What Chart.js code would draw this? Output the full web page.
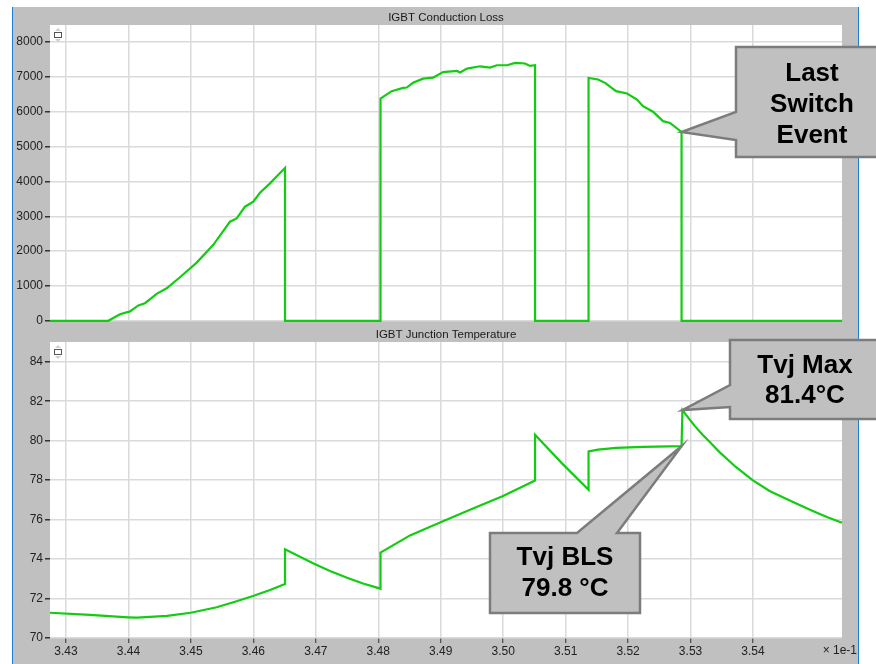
<!DOCTYPE html>
<html>
<head>
<meta charset="utf-8">
<script src="https://cdn.jsdelivr.net/npm/chart.js@4/dist/chart.umd.min.js"></script>
<style>
html,body{margin:0;padding:0;background:#fff;}
body{width:876px;height:664px;position:relative;overflow:hidden;}
#frame{position:absolute;left:12px;top:7px;width:847px;height:657px;box-sizing:border-box;background:#c0c0c0;border-left:1px solid #1a7fd4;border-right:1px solid #1a7fd4;}
canvas{position:absolute;left:0;}
#c1{top:0;}
#c2{top:326px;}
</style>
</head>
<body>
<div id="frame"></div>
<canvas id="c1" width="876" height="330"></canvas>
<canvas id="c2" width="876" height="338"></canvas>
<script>
// ---- data (time axis in units of 1e-1 s) ----
const xTicks = [3.43,3.44,3.45,3.46,3.47,3.48,3.49,3.50,3.51,3.52,3.53,3.54];
const lossTicks = [0,1000,2000,3000,4000,5000,6000,7000,8000];
const tempTicks = [70,72,74,76,78,80,82,84];

const lossX = [3.42744,3.43677,3.43865,3.44025,3.44158,3.44265,3.44452,3.44612,3.44825,3.45093,3.45359,3.45626,3.45733,3.45866,3.45999,3.46106,3.46267,3.46507,3.46507,
  3.48036,3.48036,3.48215,3.48396,3.48456,3.48556,3.48717,3.48877,3.49037,3.49261,3.49309,3.49421,3.49629,3.49789,3.49901,3.50062,3.50190,3.50350,3.50430,3.50510,3.50510,
  3.51367,3.51367,3.51519,3.51631,3.51807,3.51983,3.52143,3.52239,3.52399,3.52559,3.52671,3.52856,3.52856,3.55426];
const lossY = [0,0,190,270,440,505,775,935,1250,1670,2180,2845,2940,3275,3420,3675,3945,4390,0,
  0,6380,6590,6685,6695,6830,6950,6980,7140,7170,7125,7240,7305,7270,7335,7335,7400,7385,7315,7335,0,
  0,6970,6925,6830,6590,6525,6350,6160,6000,5730,5680,5420,0,0];

const tempX = [3.42744,3.43384,3.43993,3.44137,3.44617,3.44997,3.45413,3.45706,3.45994,3.46267,3.46507,3.46507,
  3.46955,3.47227,3.47500,3.47756,3.48036,3.48036,
  3.48508,3.48989,3.49469,3.49998,3.50510,3.50510,3.50942,3.51367,3.51367,3.51519,3.51807,3.52239,3.52856,3.52870,
  3.52984,3.53064,3.53192,3.53304,3.53464,3.53720,3.53993,3.54265,3.54537,3.54745,3.54985,3.55193,3.55426];
const tempY = [71.28,71.17,71.05,71.03,71.12,71.28,71.56,71.84,72.13,72.43,72.74,74.50,
  73.79,73.40,73.05,72.76,72.50,74.33,
  75.20,75.85,76.50,77.20,77.98,80.30,78.85,77.51,79.46,79.55,79.63,79.69,79.72,81.55,
  81.08,80.76,80.30,79.94,79.42,78.68,78.00,77.45,77.05,76.74,76.40,76.12,75.84];

const X_MIN = 3.42744, X_MAX = 3.55425;
const LOSS_MIN = 0, LOSS_MAX = 8490;
const TEMP_MIN = 70, TEMP_MAX = 85.0;

const GREEN = '#12cc12';
const FONT = 'Liberation Sans';

function xy(xs, ys){ return xs.map((x,i)=>({x:x,y:ys[i]})); }

function options(yMin, yMax, yTicks, bottom){
  return {
    responsive:false, animation:false, events:[],
    layout:{padding: bottom ? {left:12,right:34,top:16,bottom:0} : {left:12,right:34,top:25,bottom:9}},
    plugins:{legend:{display:false},tooltip:{enabled:false},title:{display:false}},
    scales:{
      x:{type:'linear',min:X_MIN,max:X_MAX,
        afterBuildTicks:s=>{s.ticks = xTicks.map(v=>({value:v}));},
        afterFit:s=>{s.height = bottom ? 26 : 0;},
        border:{display:false},
        grid:{color:'#dadada',lineWidth:1.5,drawTicks:bottom,tickLength:5,tickColor:'#333',tickWidth:1},
        ticks:{display:bottom,autoSkip:false,maxRotation:0,padding:1,color:'#222',
               font:{family:FONT,size:12},callback:v=>Number(v).toFixed(2)}},
      y:{type:'linear',min:yMin,max:yMax,
        afterBuildTicks:s=>{s.ticks = yTicks.map(v=>({value:v}));},
        afterFit:s=>{s.width = 38;},
        border:{display:false},
        grid:{color:'#dadada',lineWidth:1.5,drawTicks:true,tickLength:5,tickColor:'#333',tickWidth:1.5},
        ticks:{autoSkip:false,padding:2,color:'#222',font:{family:FONT,size:12},callback:v=>String(v)}}
    }
  };
}

function drawCallout(ctx, c, tip){
  ctx.save();
  ctx.beginPath();
  if (c.edge === 'left'){
    ctx.moveTo(c.L,c.T); ctx.lineTo(c.R,c.T); ctx.lineTo(c.R,c.B); ctx.lineTo(c.L,c.B);
    ctx.lineTo(c.L,c.b2); ctx.lineTo(tip.x,tip.y); ctx.lineTo(c.L,c.b1); ctx.closePath();
  } else {
    ctx.moveTo(c.L,c.T); ctx.lineTo(c.b1,c.T); ctx.lineTo(tip.x,tip.y); ctx.lineTo(c.b2,c.T);
    ctx.lineTo(c.R,c.T); ctx.lineTo(c.R,c.B); ctx.lineTo(c.L,c.B); ctx.closePath();
  }
  ctx.fillStyle = '#c0c0c0'; ctx.fill();
  ctx.lineWidth = 2.5; ctx.strokeStyle = '#7c7c7c'; ctx.lineJoin = 'miter'; ctx.stroke();
  ctx.fillStyle = '#000'; ctx.font = 'bold 26px "' + FONT + '"';
  ctx.textAlign = 'center'; ctx.textBaseline = 'middle';
  c.lines.forEach((t,i)=>ctx.fillText(t, c.tx, c.ty[i]));
  ctx.restore();
}

function deco(cfg){
  return {
    id:'deco',
    beforeDraw(chart){
      const {ctx, chartArea:a} = chart;
      ctx.save(); ctx.fillStyle = '#fff';
      ctx.fillRect(a.left, a.top, a.right-a.left, a.bottom-a.top);
      ctx.restore();
    },
    afterDraw(chart){
      const {ctx, chartArea:a, scales} = chart;
      ctx.save();
      ctx.fillStyle = '#1a1a1a'; ctx.font = '11.5px "' + FONT + '"';
      ctx.textAlign = 'center'; ctx.textBaseline = 'middle';
      ctx.fillText(cfg.title, (a.left+a.right)/2, a.top-7.5);
      // small icon in plot corner
      ctx.fillStyle = '#d0d0d0';
      ctx.beginPath(); ctx.moveTo(a.left+5,a.top+6); ctx.lineTo(a.left+11,a.top+6); ctx.lineTo(a.left+8,a.top+3); ctx.fill();
      ctx.beginPath(); ctx.moveTo(a.left+5,a.top+14); ctx.lineTo(a.left+11,a.top+14); ctx.lineTo(a.left+8,a.top+17); ctx.fill();
      ctx.fillStyle = '#fff'; ctx.strokeStyle = '#555'; ctx.lineWidth = 1;
      ctx.fillRect(a.left+4.5,a.top+7.5,7,5); ctx.strokeRect(a.left+4.5,a.top+7.5,7,5);
      if (cfg.unit){
        ctx.fillStyle = '#222'; ctx.font = '12px "' + FONT + '"';
        ctx.textAlign = 'right'; ctx.textBaseline = 'middle';
        ctx.fillText(cfg.unit, 857, a.bottom+13);
      }
      ctx.restore();
      cfg.callouts.forEach(c=>{
        const tip = {x: scales.x.getPixelForValue(c.px), y: scales.y.getPixelForValue(c.py)};
        drawCallout(ctx, c, tip);
      });
    }
  };
}

// anchor points taken from the data
let lastOn = 0; lossY.forEach((v,i)=>{ if (v>0) lastOn = i; });
let peak = 0; tempY.forEach((v,i)=>{ if (v>tempY[peak]) peak = i; });
const bls = peak - 1;

new Chart(document.getElementById('c1'), {
  type:'line',
  data:{datasets:[{data:xy(lossX,lossY),borderColor:GREEN,borderWidth:2.2,pointRadius:0,tension:0,fill:false,clip:false}]},
  options: options(LOSS_MIN, LOSS_MAX, lossTicks, false),
  plugins:[deco({title:'IGBT Conduction Loss', unit:null, callouts:[
    {edge:'left', L:736, T:47, R:878, B:157, b1:112, b2:140, px:lossX[lastOn], py:lossY[lastOn],
     lines:['Last','Switch','Event'], tx:812, ty:[74,105,136]}
  ]})]
});

new Chart(document.getElementById('c2'), {
  type:'line',
  data:{datasets:[{data:xy(tempX,tempY),borderColor:GREEN,borderWidth:2.2,pointRadius:0,tension:0,fill:false,clip:false}]},
  options: options(TEMP_MIN, TEMP_MAX, tempTicks, true),
  plugins:[deco({title:'IGBT Junction Temperature', unit:'\u00d7 1e-1', callouts:[
    {edge:'left', L:730, T:14, R:878, B:93, b1:59, b2:81, px:tempX[peak], py:tempY[peak],
     lines:['Tvj Max','81.4\u00b0C'], tx:805, ty:[40,70]},
    {edge:'top', L:490, T:207, R:640, B:287, b1:577, b2:617, px:tempX[bls], py:tempY[bls],
     lines:['Tvj BLS','79.8 \u00b0C'], tx:565, ty:[232,263]}
  ]})]
});
</script>
</body>
</html>
